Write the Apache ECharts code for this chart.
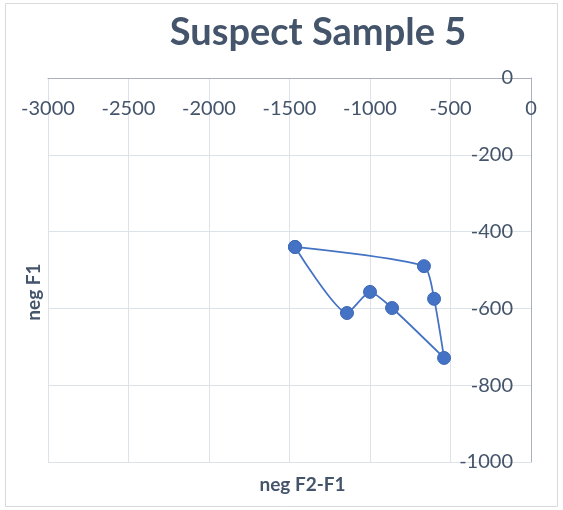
<!DOCTYPE html>
<html>
<head>
<meta charset="utf-8">
<script src="https://cdn.jsdelivr.net/npm/echarts@6/dist/echarts.min.js"></script>
<style>
  html, body { margin: 0; padding: 0; background: #fff; }
  #chart { width: 563px; height: 510px; }
</style>
</head>
<body>
<div id="chart"></div>
<script>
// Formant trajectory: negated F2-F1 against negated F1, closed loop
const negF2F1 = [-1466, -665, -602, -540, -863, -1000, -1143, -1466];
const negF1 = [-440, -490, -575, -729, -599, -557, -612, -440];

const xTicks = { min: -3000, max: 0, interval: 500 };
const yTicks = { min: -1000, max: 0, interval: 200 };

const textColor = '#44546A';
const fontFamily = 'Lato, "Open Sans", sans-serif';

const points = negF2F1.map((x, i) => [x, negF1[i]]);
const plainNumber = v => String(v);

const chart = echarts.init(document.getElementById('chart'), null, { renderer: 'canvas' });
chart.setOption({
  animation: false,
  backgroundColor: '#fff',
  graphic: [{
    type: 'rect',
    shape: { x: 5.5, y: 3.5, width: 552, height: 503 },
    style: { fill: 'none', stroke: '#D9D9D9', lineWidth: 1 },
    silent: true
  }],
  title: {
    text: 'Suspect Sample 5',
    left: 313,
    top: 9,
    textAlign: 'center',
    textStyle: { color: textColor, fontSize: 38, fontWeight: 'bold', fontFamily: fontFamily }
  },
  grid: { left: 48, right: 32, top: 78, bottom: 48 },
  xAxis: {
    type: 'value',
    position: 'top',
    min: xTicks.min, max: xTicks.max, interval: xTicks.interval,
    name: 'neg F2-F1',
    nameLocation: 'middle',
    nameGap: -416,
    nameTextStyle: {
      color: textColor, fontSize: 19, fontWeight: 'bold', fontFamily: fontFamily,
      padding: [0, 0, 0, 26]
    },
    axisLine: { show: true, onZero: false, lineStyle: { color: '#A9B1BE', width: 1 } },
    axisTick: { show: false },
    axisLabel: {
      inside: true, margin: 21, color: textColor, fontSize: 20, fontFamily: fontFamily,
      formatter: plainNumber
    },
    splitLine: { show: true, lineStyle: { color: '#DDE1E8', width: 1 } }
  },
  yAxis: {
    type: 'value',
    position: 'right',
    min: yTicks.min, max: yTicks.max, interval: yTicks.interval,
    name: 'neg F1',
    nameLocation: 'middle',
    nameRotate: 90,
    nameGap: -507,
    nameTextStyle: {
      color: textColor, fontSize: 19, fontWeight: 'bold', fontFamily: fontFamily,
      padding: [0, 44, 0, 0]
    },
    axisLine: { show: true, onZero: false, lineStyle: { color: '#A9B1BE', width: 1 } },
    axisTick: { show: false },
    axisLabel: {
      inside: true, margin: 18, color: textColor, fontSize: 20, fontFamily: fontFamily,
      formatter: plainNumber
    },
    splitLine: { show: true, lineStyle: { color: '#DDE1E8', width: 1 } }
  },
  series: [{
    type: 'line',
    data: points,
    smooth: 0.2,
    symbol: 'circle',
    symbolSize: 13,
    lineStyle: { color: '#4472C4', width: 1.75 },
    itemStyle: { color: '#4472C4', borderColor: '#3F68B5', borderWidth: 1 }
  }]
});
</script>
</body>
</html>
